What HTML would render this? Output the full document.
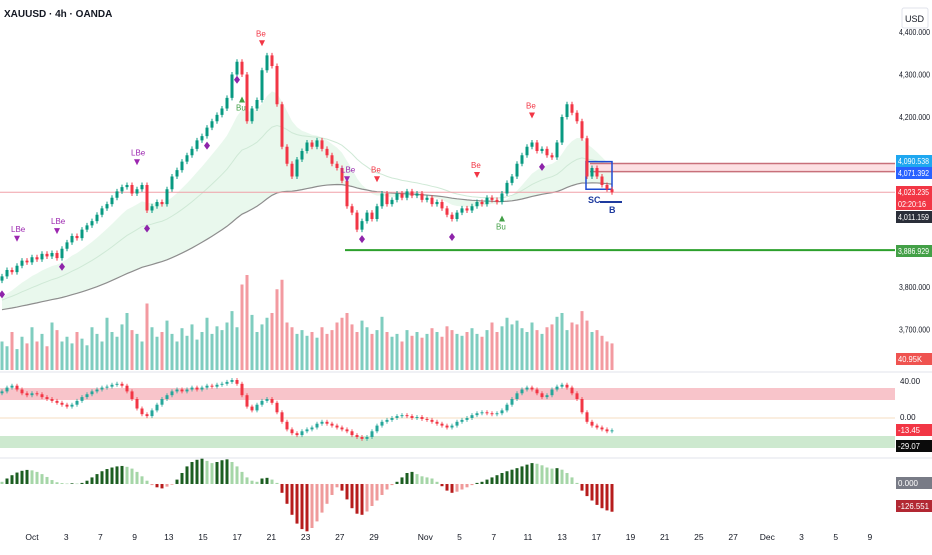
<!DOCTYPE html>
<html><head><meta charset="utf-8">
<style>
html,body{margin:0;padding:0;background:#fff;}
body{width:932px;height:550px;overflow:hidden;font-family:"Liberation Sans",sans-serif;}
svg text{font-family:"Liberation Sans",sans-serif;}
</style></head>
<body>
<svg id="chart" width="932" height="550" viewBox="0 0 932 550">
  <text x="4" y="17" font-size="10" fill="#131722" font-weight="bold">XAUUSD · 4h · OANDA</text>
  <rect x="902" y="8" width="26" height="20" fill="#fff" stroke="#e0e3eb" rx="2"/>
  <text x="905" y="22" font-size="9" fill="#131722">USD</text>
  <g id="bg"></g><g id="vol"></g><g id="candles"></g><g id="marks"></g><g id="osc"></g><g id="hist"></g><g id="axis"></g>
</svg>
<script>
const closes=[3825,3840,3835,3850,3862,3858,3870,3865,3878,3872,3880,3868,3890,3905,3920,3915,3935,3945,3955,3970,3985,3995,4010,4025,4035,4040,4020,4030,4040,3980,3990,4000,3995,4030,4060,4075,4095,4110,4125,4145,4155,4175,4190,4205,4220,4245,4300,4330,4300,4190,4220,4240,4310,4345,4320,4230,4130,4090,4060,4100,4120,4140,4130,4145,4125,4110,4090,4080,4050,3990,3975,3935,3955,3975,3960,3990,4020,3995,4005,4020,4010,4025,4015,4020,4005,4010,3995,4000,3985,3970,3960,3975,3985,3980,3990,4000,3995,4010,4005,4000,4020,4045,4060,4090,4110,4130,4140,4120,4125,4110,4105,4140,4200,4230,4210,4190,4150,4060,4080,4060,4040,4030,4023];
const volumes=[30,25,40,22,35,28,45,30,38,25,50,42,30,35,28,40,33,26,45,38,30,55,40,35,48,60,42,38,30,70,45,35,40,52,38,30,44,36,48,32,40,55,38,46,42,50,62,45,90,100,58,40,48,55,60,85,95,50,45,38,42,36,40,34,45,38,42,50,55,60,48,40,52,45,38,42,56,40,35,38,30,42,36,40,34,38,44,40,35,46,42,38,36,40,44,38,35,42,50,40,46,55,48,52,44,40,50,42,38,45,48,56,60,42,50,48,62,52,40,42,36,30,28];
const osc=[28,32,34,30,26,24,26,25,22,20,18,16,14,12,14,18,22,25,28,30,32,33,35,36,34,28,20,10,4,2,8,14,20,24,28,30,28,30,32,30,32,34,33,35,36,38,40,36,24,12,8,14,18,20,16,6,-4,-12,-16,-18,-14,-12,-10,-6,-4,-6,-8,-10,-12,-14,-18,-20,-22,-20,-14,-8,-4,-2,0,2,3,2,0,1,-1,-2,-4,-6,-8,-10,-8,-4,-2,0,3,5,6,5,4,5,8,14,20,26,30,32,30,26,22,24,30,33,35,32,26,20,6,-4,-8,-10,-12,-14,-13];
const hist=[10,25,40,52,60,64,62,55,45,32,18,8,4,2,3,2,5,15,30,45,58,68,75,80,82,78,70,55,35,15,-5,-15,-20,-12,-3,20,50,80,100,110,115,105,95,100,108,112,100,80,55,30,15,10,25,28,20,5,-40,-90,-140,-180,-205,-215,-200,-170,-130,-90,-50,-15,-30,-70,-110,-135,-140,-125,-100,-75,-50,-25,-5,10,30,50,55,45,35,30,25,10,-10,-30,-40,-35,-25,-15,-5,5,10,20,30,40,50,58,65,72,80,88,95,92,85,75,70,72,65,50,30,5,-30,-55,-75,-95,-110,-120,-126];
const dateLabels=["Oct","3","7","9","13","15","17","21","23","27","29","Nov","5","7","11","13","17","19","21","25","27","Dec","3","5","9"];
const dateSlots=[0.5,1.5,2.5,3.5,4.5,5.5,6.5,7.5,8.5,9.5,10.5,12,13,14,15,16,17,18,19,20,21,22,23,24,25];
const priceTicks=[4400,4300,4200,3800,3700];

const NS="http://www.w3.org/2000/svg";
function el(tag,attrs,parent,txt){const e=document.createElementNS(NS,tag);for(const k in attrs)e.setAttribute(k,attrs[k]);if(txt!==undefined)e.textContent=txt;document.getElementById(parent).appendChild(e);return e;}
const step=5, x0=2;
const xOf=i=>x0+i*step;
const yP=p=>287-(p-3800)*0.425;
const yVolBase=370, yV=v=>v*0.95;
const yO=v=>418-v*0.95;
const yH=v=>484-v*0.22;
const xDate=s=>32+(s-0.5)*34.2;

function ema(arr,n){const k=2/(n+1);let o=[],e=arr[0]-60;for(const v of arr){e=v*k+e*(1-k);o.push(e);}return o;}
const e1=ema(closes,12),e2=ema(closes,28),e3=ema(closes,70);
let band="M"+xOf(0)+","+yP(e1[0]);
closes.forEach((c,i)=>{band+=" L"+xOf(i)+","+yP(e1[i]);});
for(let i=closes.length-1;i>=0;i--)band+=" L"+xOf(i)+","+yP(e3[i]-20);
let b=el("path",{d:band+"Z",fill:"#e3f6e8","fill-opacity":"0.8"},"bg");


let mid="",slow="";
closes.forEach((c,i)=>{mid+=(i?"L":"M")+xOf(i)+","+yP(e2[i]);slow+=(i?"L":"M")+xOf(i)+","+yP(e3[i]-20);});
let m1=el("path",{d:mid,fill:"none",stroke:"#cfe9d6","stroke-width":1},"bg");


let m2=el("path",{d:slow,fill:"none",stroke:"#8d8d8d","stroke-width":1.2},"bg");



let cl=el("line",{x1:0,x2:895,y1:yP(4023),y2:yP(4023),stroke:"#f0a0a8","stroke-width":1},"bg");


let gl=el("line",{x1:345,x2:895,y1:yP(3886.9),y2:yP(3886.9),stroke:"#2ca02c","stroke-width":2},"bg");


let z=el("rect",{x:590,y:yP(4090.5),width:305,height:yP(4071.4)-yP(4090.5),fill:"#fde0e3"},"bg");


[4090.5,4071.4].forEach(p=>{const l=el("line",{x1:590,x2:895,y1:yP(p),y2:yP(p),stroke:"#c8707a","stroke-width":1.5},"bg");

});
let sb=el("rect",{x:586,y:yP(4095),width:26,height:yP(4030)-yP(4095),fill:"none",stroke:"#1e4bd2","stroke-width":1.5},"bg");


let bl=el("line",{x1:600,x2:622,y1:yP(4000),y2:yP(4000),stroke:"#1e3a9e","stroke-width":2},"bg");



volumes.forEach((v,i)=>{const up=i==0||closes[i]>=closes[i-1];
const r=el("rect",{x:xOf(i)-1.5,y:yVolBase-yV(v),width:3,height:yV(v),fill:up?"#7fcdbf":"#f39aa0"},"vol");

});

closes.forEach((c,i)=>{const o=i?closes[i-1]:c-10;const up=c>=o;const col=up?"#089981":"#f23645";
const hi=Math.max(o,c)+6,lo=Math.min(o,c)-6;
const w=el("line",{x1:xOf(i),x2:xOf(i),y1:yP(hi),y2:yP(lo),stroke:col,"stroke-width":1},"candles");


const r=el("rect",{x:xOf(i)-1.5,y:yP(Math.max(o,c)),width:3,height:Math.max(1,Math.abs(yP(o)-yP(c))),fill:col},"candles");

});

const sigIdx=[3,11,27,48,52,69,75,95,100,106];
const sigTxt=["LBe","LBe","LBe","Bu","Be","LBe","Be","Be","Bu","Be"];
sigIdx.forEach((i,k)=>{const t=sigTxt[k];const bear=t.indexOf("Be")>=0;const col=t=="LBe"?"#9c27b0":(bear?"#f23645":"#43a047");
const y=bear?yP(closes[i])-28:yP(closes[i])+22;
const tt=el("text",{x:xOf(i)-6,y:bear?y-6:y+14,"font-size":8,fill:col},"marks",t);


const tri=el("path",{d:bear?`M${xOf(i)-3},${y-2}h6l-3,6z`:`M${xOf(i)-3},${y+6}h6l-3,-6z`,fill:col},"marks");

});
[0,12,29,41,47,72,90,108].forEach(i=>{const d=el("path",{d:`M${xOf(i)},${yP(closes[i])+14}l3,4l-3,4l-3,-4z`,fill:"#8e24aa"},"marks");

});
[["SC",588,203],["B",609,213]].forEach(a=>{const t=el("text",{x:a[1],y:a[2],"font-size":9,fill:"#1e3a9e","font-weight":"bold"},"marks",a[0]);

});

[372,458].forEach(y=>{const l=el("line",{x1:0,x2:932,y1:y,y2:y,stroke:"#e0e3eb"},"axis");

});

let ob=el("rect",{x:0,y:388,width:895,height:12,fill:"#f8c4ca"},"osc");


let sb2=el("rect",{x:0,y:436,width:895,height:12,fill:"#cde9cf"},"osc");


let zl=el("line",{x1:0,x2:895,y1:yO(0),y2:yO(0),stroke:"#f5dcc0"},"osc");


osc.forEach((v,i)=>{const p=i?osc[i-1]:v-2;const up=v>=p;const col=up?"#26a69a":"#f23645";
const s=el("rect",{x:xOf(i)-1.5,y:Math.min(yO(v),yO(p)),width:3,height:Math.max(1,Math.abs(yO(v)-yO(p))),fill:col},"osc");


const w=el("line",{x1:xOf(i),x2:xOf(i),y1:Math.min(yO(v),yO(p))-2,y2:Math.max(yO(v),yO(p))+2,stroke:col,"stroke-width":0.8},"osc");

});

hist.forEach((v,i)=>{const rising=i>0&&Math.abs(v)>=Math.abs(hist[i-1]);
const col=v>=0?(rising?"#1b5e20":"#a5d6a7"):(rising?"#b71c1c":"#ef9a9a");
const r=el("rect",{x:xOf(i)-1.5,y:Math.min(yH(v),yH(0)),width:3,height:Math.max(0.5,Math.abs(yH(v)-yH(0))),fill:col},"hist");

});

priceTicks.forEach(p=>{const t=el("text",{x:899,y:yP(p)+3,"font-size":8,fill:"#131722",textLength:31,lengthAdjust:"spacingAndGlyphs"},"axis",p.toLocaleString("en-US")+".000");

});
const tags=[["4,090.538",155,"#1ea7f0",31],["4,071.392",167,"#2962ff",31],["4,023.235",186,"#f23645",31],["02:20:16",198,"#f23645",28],["4,011.159",211,"#2a2e39",31],["3,886.929",245,"#43a047",31],["40.95K",353,"#ef5350",24],["-13.45",424,"#f23645",22],["-29.07",440,"#0b0b0b",22],["0.000",477,"#787b86",20],["-126.551",500,"#b22833",31]];
tags.forEach(a=>{const r=el("rect",{x:896,y:a[1],width:36,height:12,fill:a[2]},"axis");


const t=el("text",{x:898,y:a[1]+9,"font-size":8,fill:"#fff",textLength:a[3],lengthAdjust:"spacingAndGlyphs"},"axis",a[0]);

});
[["40.00",384],["0.00",420]].forEach(a=>{const t=el("text",{x:900,y:a[1],"font-size":8,fill:"#131722"},"axis",a[0]);

});

dateLabels.forEach((d,k)=>{const t=el("text",{x:xDate(dateSlots[k]),y:540,"font-size":8.5,fill:"#131722","text-anchor":"middle"},"axis",d);

});
</script>
</body></html>
